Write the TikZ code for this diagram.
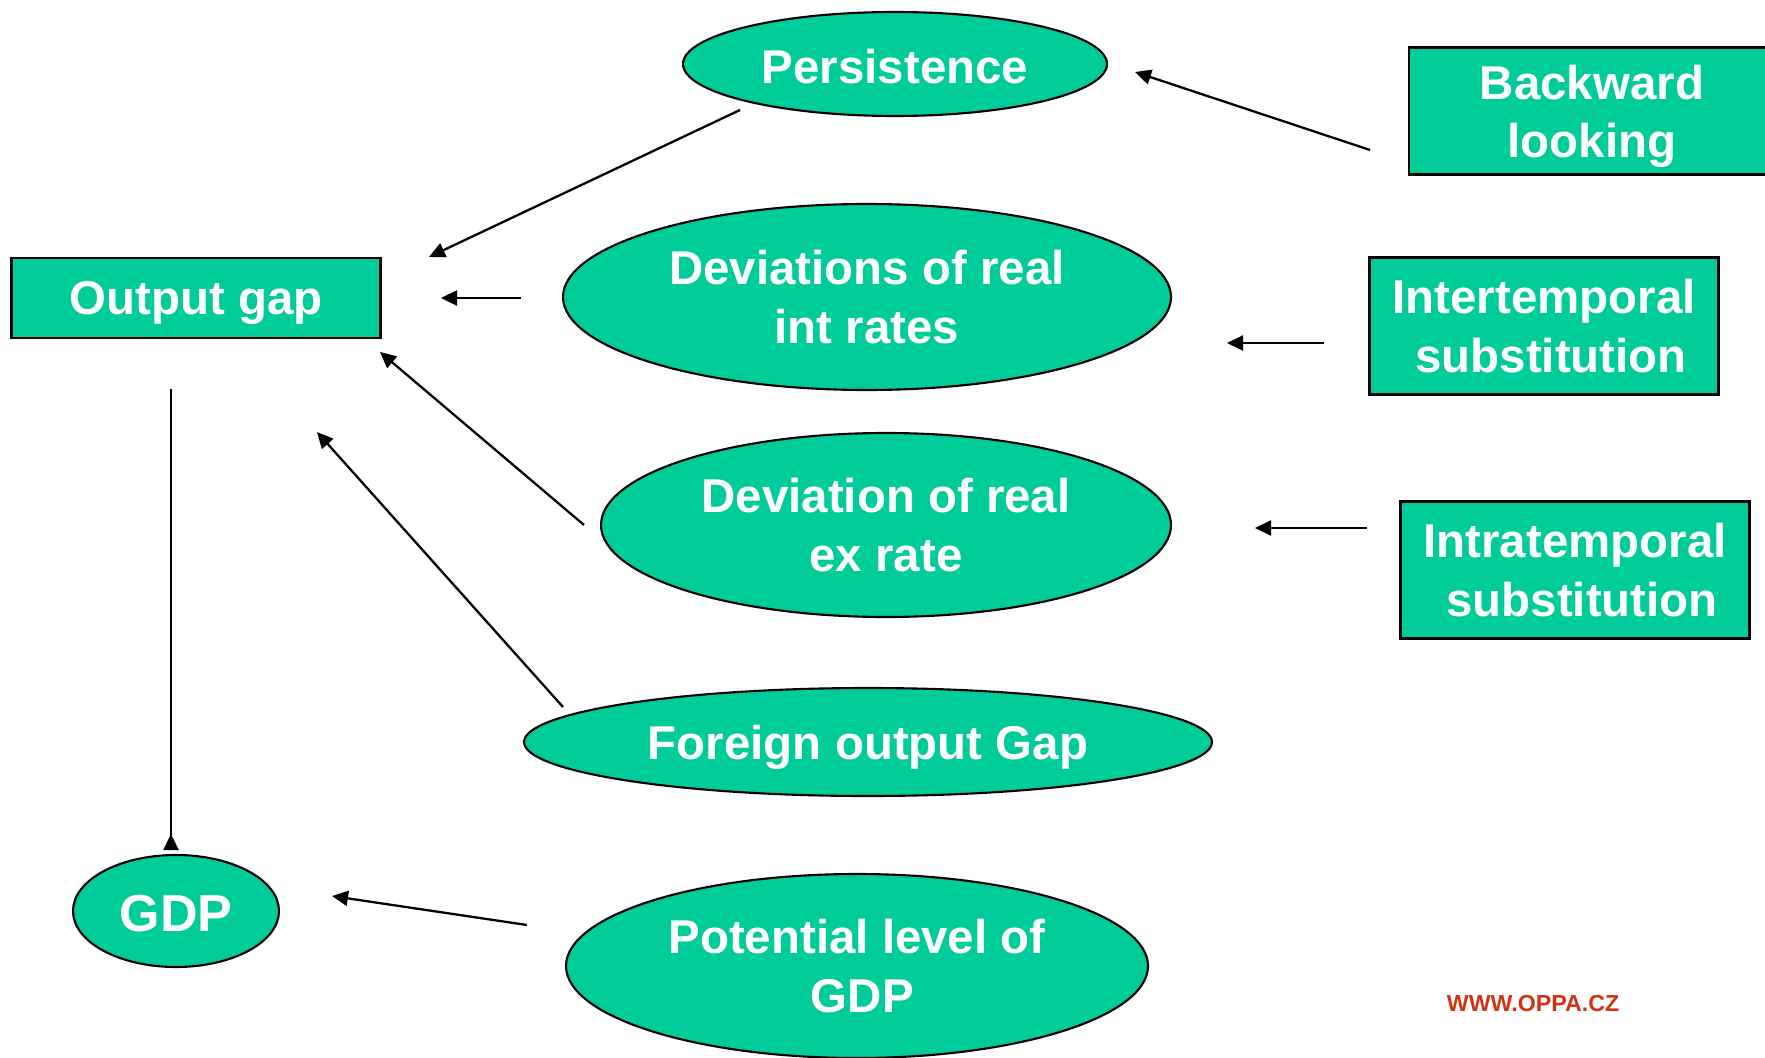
\documentclass[tikz,border=0pt]{standalone}
\usepackage{fontspec}
\setmainfont{Liberation Sans}
\usepackage{xcolor}
\usepackage{tikz}
\usetikzlibrary{shapes.geometric, arrows.meta, positioning, calc}
\definecolor{oppagreen}{RGB}{0,204,153}
\definecolor{oppared}{RGB}{210,50,20}

\begin{document}
\begin{tikzpicture}[
  box/.style={rectangle, draw, line width=0.6pt, fill=oppagreen, inner sep=0pt},
  oval/.style={ellipse, draw, line width=0.6pt, fill=oppagreen, inner sep=0pt},
  txt/.style={text=white, align=center, font=\bfseries\fontsize{13.5}{16.6}\selectfont},
  low/.style={txt, yshift=-1.5pt},
  arr/.style={-{Triangle[length=1.6mm, width=1.5mm]}, line width=0.65pt},
  revarr/.style={-{Triangle[length=1.6mm, width=1.5mm, reversed]}, line width=0.65pt}
]
\useasboundingbox (0,0) rectangle (17.65,-10.57);
% left column
\node[box, minimum width=3.69cm, minimum height=0.80cm,
      label={[low]center:Output gap}] (ogap) at (1.96,-2.98) {};
\node[oval, minimum width=2.06cm, minimum height=1.12cm,
      label={[txt, yshift=-0.7pt, font=\bfseries\fontsize{14.8}{17}\selectfont]center:GDP}] (gdp) at (1.76,-9.11) {};
% middle column
\node[oval, minimum width=4.24cm, minimum height=1.04cm,
      label={[txt, yshift=-0.7pt]center:Persistence}] (pers) at (8.95,-0.64) {};
\node[oval, minimum width=6.08cm, minimum height=1.86cm,
      label={[txt]center:Deviations of real\\int rates}] (intr) at (8.67,-2.97) {};
\node[oval, minimum width=5.70cm, minimum height=1.84cm,
      label={[txt]center:Deviation of real\\ex rate}] (exr) at (8.86,-5.25) {};
\node[oval, minimum width=6.88cm, minimum height=1.08cm,
      label={[low]center:Foreign output Gap}] (fgap) at (8.68,-7.42) {};
\node[oval, minimum width=5.82cm, minimum height=1.84cm,
      label={[txt]center:Potential level of\\\hspace*{3pt}GDP}] (pot) at (8.57,-9.66) {};
% right column
\node[box, minimum width=3.66cm, minimum height=1.27cm,
      label={[low]center:Backward\\looking}] (back) at (15.92,-1.11) {};
\node[box, minimum width=3.49cm, minimum height=1.37cm,
      label={[txt]center:Intertemporal\\\hspace*{4pt}substitution}] (inter) at (15.44,-3.26) {};
\node[box, minimum width=3.49cm, minimum height=1.37cm,
      label={[txt]center:Intratemporal\\\hspace*{4pt}substitution}] (intra) at (15.75,-5.70) {};
% free ends of the arrows
\coordinate (pers-a) at (7.40,-1.10);  \coordinate (ogap-a) at (4.29,-2.57);
\coordinate (back-a) at (13.70,-1.50); \coordinate (pers-b) at (11.35,-0.72);
\coordinate (intr-a) at (5.21,-2.98);  \coordinate (ogap-b) at (4.41,-2.98);
\coordinate (inter-a) at (13.24,-3.43); \coordinate (intr-b) at (12.27,-3.43);
\coordinate (intra-a) at (13.67,-5.28); \coordinate (exr-b) at (12.55,-5.28);
\coordinate (exr-a) at (5.84,-5.25);   \coordinate (ogap-c) at (3.80,-3.52);
\coordinate (fgap-a) at (5.63,-7.07);  \coordinate (ogap-d) at (3.17,-4.32);
\coordinate (ogap-e) at (1.71,-3.89);  \coordinate (gdp-a) at (1.71,-8.50);
\coordinate (pot-a) at (5.27,-9.25);   \coordinate (gdp-b) at (3.32,-8.96);
\draw[arr] (pers-a) -- (ogap-a);
\draw[arr] (back-a) -- (pers-b);
\draw[arr] (intr-a) -- (ogap-b);
\draw[arr] (inter-a) -- (intr-b);
\draw[arr] (intra-a) -- (exr-b);
\draw[arr] (exr-a) -- (ogap-c);
\draw[arr] (fgap-a) -- (ogap-d);
\draw[revarr] (ogap-e) -- (gdp-a);
\draw[arr] (pot-a) -- (gdp-b);
\node[text=oppared, font=\bfseries\fontsize{6.6}{8}\selectfont] (web) at (15.33,-10.03) {WWW.OPPA.CZ};
\end{tikzpicture}
\end{document}
